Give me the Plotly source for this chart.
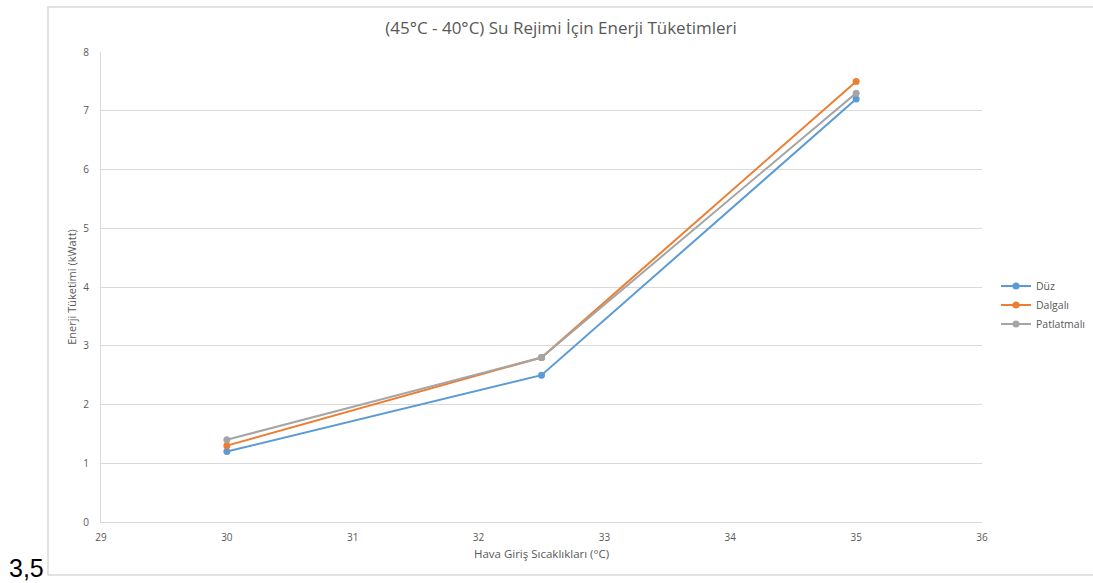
import plotly.graph_objects as go

# Air inlet temperatures (°C) and energy consumption (kW) per fin type
temps = [30, 32.5, 35]
series_names = ["Düz", "Dalgalı", "Patlatmalı"]
duz = [1.2, 2.5, 7.2]
dalgali = [1.3, 2.8, 7.5]
patlatmali = [1.4, 2.8, 7.3]
colors = ["#5B9BD5", "#ED7D31", "#A5A5A5"]

title_text = "(45°C - 40°C) Su Rejimi İçin Enerji Tüketimleri"
x_title = "Hava Giriş Sıcaklıkları (°C)"
y_title = "Enerji Tüketimi (kWatt)"
side_label = "3,5"

FONT = "Open Sans"
TXT = "#595959"
GRID = "#D9D9D9"
W, H = 1093, 583

fig = go.Figure()
for name, vals, col in zip(series_names, [duz, dalgali, patlatmali], colors):
    fig.add_trace(go.Scatter(
        x=temps, y=vals, name=name, mode="lines+markers",
        line=dict(color=col, width=2),
        marker=dict(color=col, size=7),
    ))

fig.update_layout(
    width=W, height=H,
    margin=dict(l=101, r=111, t=52, b=61, autoexpand=False),
    paper_bgcolor="white", plot_bgcolor="white",
    font=dict(family=FONT, color=TXT, size=10),
    title=dict(text=title_text, x=561 / W, xref="container", xanchor="center",
               y=1 - 28 / H, yanchor="middle",
               font=dict(family=FONT, size=17, color=TXT)),
    xaxis=dict(range=[29, 36], dtick=1, tick0=29, showgrid=False,
               showline=True, linecolor=GRID, linewidth=1, zeroline=False,
               ticks="outside", ticklen=6, tickcolor="rgba(0,0,0,0)",
               tickfont=dict(size=10, color=TXT),
               title=dict(text=x_title, font=dict(size=11.5, color=TXT), standoff=6)),
    yaxis=dict(range=[0, 8], dtick=1, showgrid=True, gridcolor=GRID, gridwidth=1,
               showline=True, linecolor=GRID, linewidth=1, zeroline=False,
               ticks="outside", ticklen=9, tickcolor="rgba(0,0,0,0)",
               tickfont=dict(size=10, color=TXT),
               title=dict(text=y_title, font=dict(size=11, color=TXT), standoff=4)),
    legend=dict(xref="container", yref="container",
                x=996 / W, y=1 - 305 / H, xanchor="left", yanchor="middle",
                font=dict(size=10.5, color=TXT), bgcolor="rgba(0,0,0,0)",
                itemwidth=30, tracegroupgap=0),
    showlegend=True,
)

# Chart frame
fig.add_shape(type="rect", xref="paper", yref="paper",
              x0=(48 - 101) / 881, x1=(1096 - 101) / 881,
              y0=(522 - 575) / 470, y1=(522 - 7) / 470,
              line=dict(color=GRID, width=1.5), fillcolor="rgba(0,0,0,0)", layer="below")

fig.add_annotation(text=side_label, xref="paper", yref="paper",
                   x=(7 - 101) / 881, y=(522 - 568) / 470,
                   xanchor="left", yanchor="middle", showarrow=False,
                   font=dict(family="Liberation Sans, Arial", size=25, color="#000000"))

fig.write_html("out.html")
